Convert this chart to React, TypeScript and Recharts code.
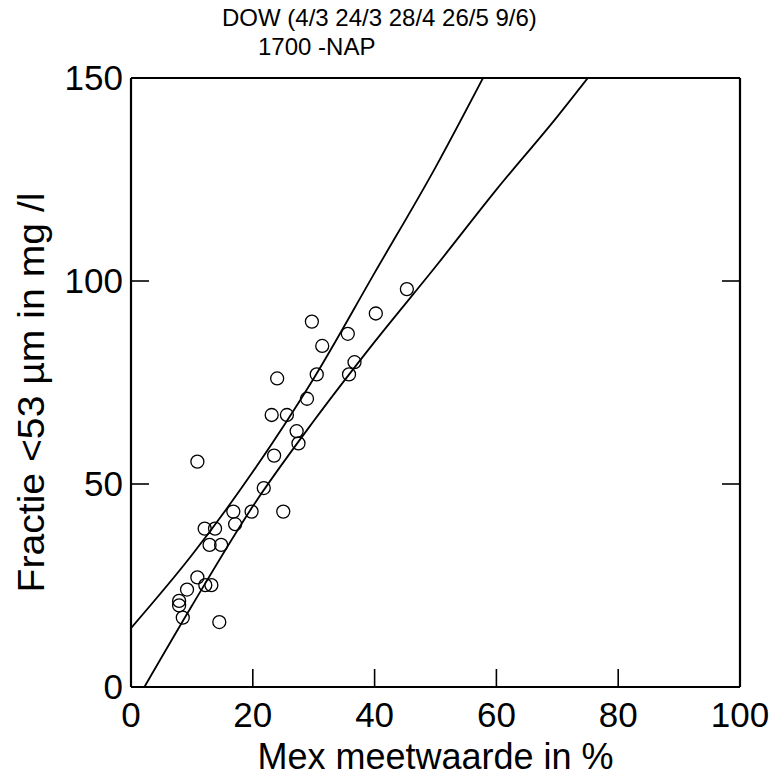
import { ComposedChart, Scatter, Line, XAxis, YAxis, Label } from 'recharts';

const title1 = 'DOW (4/3 24/3 28/4 26/5 9/6)';
const title2 = '1700 -NAP';
const xTitle = 'Mex meetwaarde in %';
const yTitle = 'Fractie <53 µm in mg /l';

const xTicks = [0, 20, 40, 60, 80, 100];
const yTicks = [0, 50, 100, 150];
const frameXTicks = [20, 40, 60, 80];
const frameYTicks = [50, 100];

// meetpunten
const mexValues = [7.9, 7.9, 8.5, 9.2, 10.9, 10.9, 12.1, 12.2, 12.9, 13.2, 13.8, 14.5, 14.8, 16.8, 17.1, 19.8, 21.8, 23.1, 23.5, 24.0, 25.0, 25.6, 27.2, 27.5, 28.9, 29.7, 30.5, 31.4, 35.6, 35.8, 36.7, 40.2, 45.3];
const fractieValues = [21.2, 20.1, 17.1, 24.0, 27.0, 55.5, 39.0, 25.1, 35.0, 25.1, 39.0, 16.0, 35.0, 43.2, 40.1, 43.2, 49.0, 67.0, 57.0, 76.0, 43.2, 67.0, 63.0, 60.0, 71.0, 90.0, 77.0, 84.0, 87.0, 77.0, 80.0, 92.0, 98.0];

// bovenste en onderste grenslijn
const upperX = [0, 10, 20, 30, 40, 50, 57.8];
const upperY = [14.5, 32.5, 53, 76, 102, 128, 150];
const lowerX = [2.2, 10, 20, 30, 40, 50, 60, 70, 75.0];
const lowerY = [0, 20, 44.5, 65.5, 85, 103.5, 122.5, 140.5, 150];

const points = mexValues.map((x, i) => ({ x, y: fractieValues[i] }));
const upper = upperX.map((x, i) => ({ x, y: upperY[i] }));
const lower = lowerX.map((x, i) => ({ x, y: lowerY[i] }));

const FONT = '"Liberation Sans", Arial, sans-serif';
const TICK_LEN = 18;

const BottomTick = (props: any) => {
  const { x, y, payload } = props;
  return (
    <g>
      <line x1={x} y1={y} x2={x} y2={y - TICK_LEN} stroke="#000" strokeWidth={1.6} />
      <text x={x} y={y + 40} textAnchor="middle" fontSize={35} fontFamily={FONT} fill="#000">
        {payload.value}
      </text>
    </g>
  );
};

const TopTick = (props: any) => {
  const { x, y } = props;
  return <line x1={x} y1={y} x2={x} y2={y + TICK_LEN} stroke="#000" strokeWidth={1.6} />;
};

const LeftTick = (props: any) => {
  const { x, y, payload } = props;
  return (
    <g>
      <line x1={x} y1={y} x2={x + TICK_LEN} y2={y} stroke="#000" strokeWidth={1.6} />
      <text x={x - 8} y={y + 12} textAnchor="end" fontSize={35} fontFamily={FONT} fill="#000">
        {payload.value}
      </text>
    </g>
  );
};

const RightTick = (props: any) => {
  const { x, y } = props;
  return <line x1={x} y1={y} x2={x - TICK_LEN} y2={y} stroke="#000" strokeWidth={1.6} />;
};

const Ring = (props: any) => {
  const { cx, cy } = props;
  return <circle cx={cx} cy={cy} r={6.5} fill="none" stroke="#000" strokeWidth={1.3} />;
};

export default function App() {
  return (
    <div style={{ position: 'absolute', left: 0, top: 0, width: 774, height: 780, background: '#fff', fontFamily: FONT }}>
      <div style={{ position: 'absolute', left: 222, top: 5, fontSize: 24, lineHeight: '26px', whiteSpace: 'nowrap' }}>
        {title1}
      </div>
      <div style={{ position: 'absolute', left: 258, top: 34, fontSize: 24, lineHeight: '26px', whiteSpace: 'nowrap' }}>{title2}</div>
      <ComposedChart width={774} height={780} margin={{ top: 77, right: 33, bottom: 0, left: 0 }}>
        <XAxis
          xAxisId="b"
          type="number"
          dataKey="x"
          domain={[0, 100]}
          ticks={xTicks}
          height={93}
          tickSize={0}
          tickMargin={0}
          tick={<BottomTick />}
          axisLine={{ stroke: '#000', strokeWidth: 2.2 }}
          allowDataOverflow
        >
          <Label
            content={(p: any) => {
              const vb = p.viewBox;
              return (
                <text x={vb.x + vb.width / 2} y={vb.y + 82} textAnchor="middle" fontSize={36} fontFamily={FONT} fill="#000">
                  {xTitle}
                </text>
              );
            }}
          />
        </XAxis>
        <XAxis
          xAxisId="t"
          orientation="top"
          type="number"
          domain={[0, 100]}
          ticks={frameXTicks}
          height={1}
          tickSize={0}
          tickMargin={0}
          tick={<TopTick />}
          axisLine={{ stroke: '#000', strokeWidth: 2.2 }}
          allowDataOverflow
        />
        <YAxis
          yAxisId="l"
          type="number"
          dataKey="y"
          domain={[0, 150]}
          ticks={yTicks}
          width={131}
          tickSize={0}
          tickMargin={0}
          tick={<LeftTick />}
          axisLine={{ stroke: '#000', strokeWidth: 2.2 }}
          allowDataOverflow
        >
          <Label
            content={(p: any) => {
              const vb = p.viewBox;
              const cy = vb.y + vb.height / 2 + 10;
              return (
                <text
                  x={31}
                  y={cy}
                  transform={`rotate(-90, 31, ${cy})`}
                  textAnchor="middle"
                  dominantBaseline="central"
                  fontSize={36}
                  textLength={400}
                  lengthAdjust="spacingAndGlyphs"
                  fontFamily={FONT}
                  fill="#000"
                >
                  {yTitle}
                </text>
              );
            }}
          />
        </YAxis>
        <YAxis
          yAxisId="r"
          orientation="right"
          type="number"
          domain={[0, 150]}
          ticks={frameYTicks}
          width={1}
          tickSize={0}
          tickMargin={0}
          tick={<RightTick />}
          axisLine={{ stroke: '#000', strokeWidth: 2.2 }}
          allowDataOverflow
        />
        <Line
          xAxisId="b"
          yAxisId="l"
          data={upper}
          dataKey="y"
          type="monotone"
          stroke="#000"
          strokeWidth={1.8}
          dot={false}
          activeDot={false}
          isAnimationActive={false}
        />
        <Line
          xAxisId="b"
          yAxisId="l"
          data={lower}
          dataKey="y"
          type="monotone"
          stroke="#000"
          strokeWidth={1.8}
          dot={false}
          activeDot={false}
          isAnimationActive={false}
        />
        <Scatter xAxisId="b" yAxisId="l" data={points} dataKey="y" shape={<Ring />} isAnimationActive={false} />
      </ComposedChart>
    </div>
  );
}
